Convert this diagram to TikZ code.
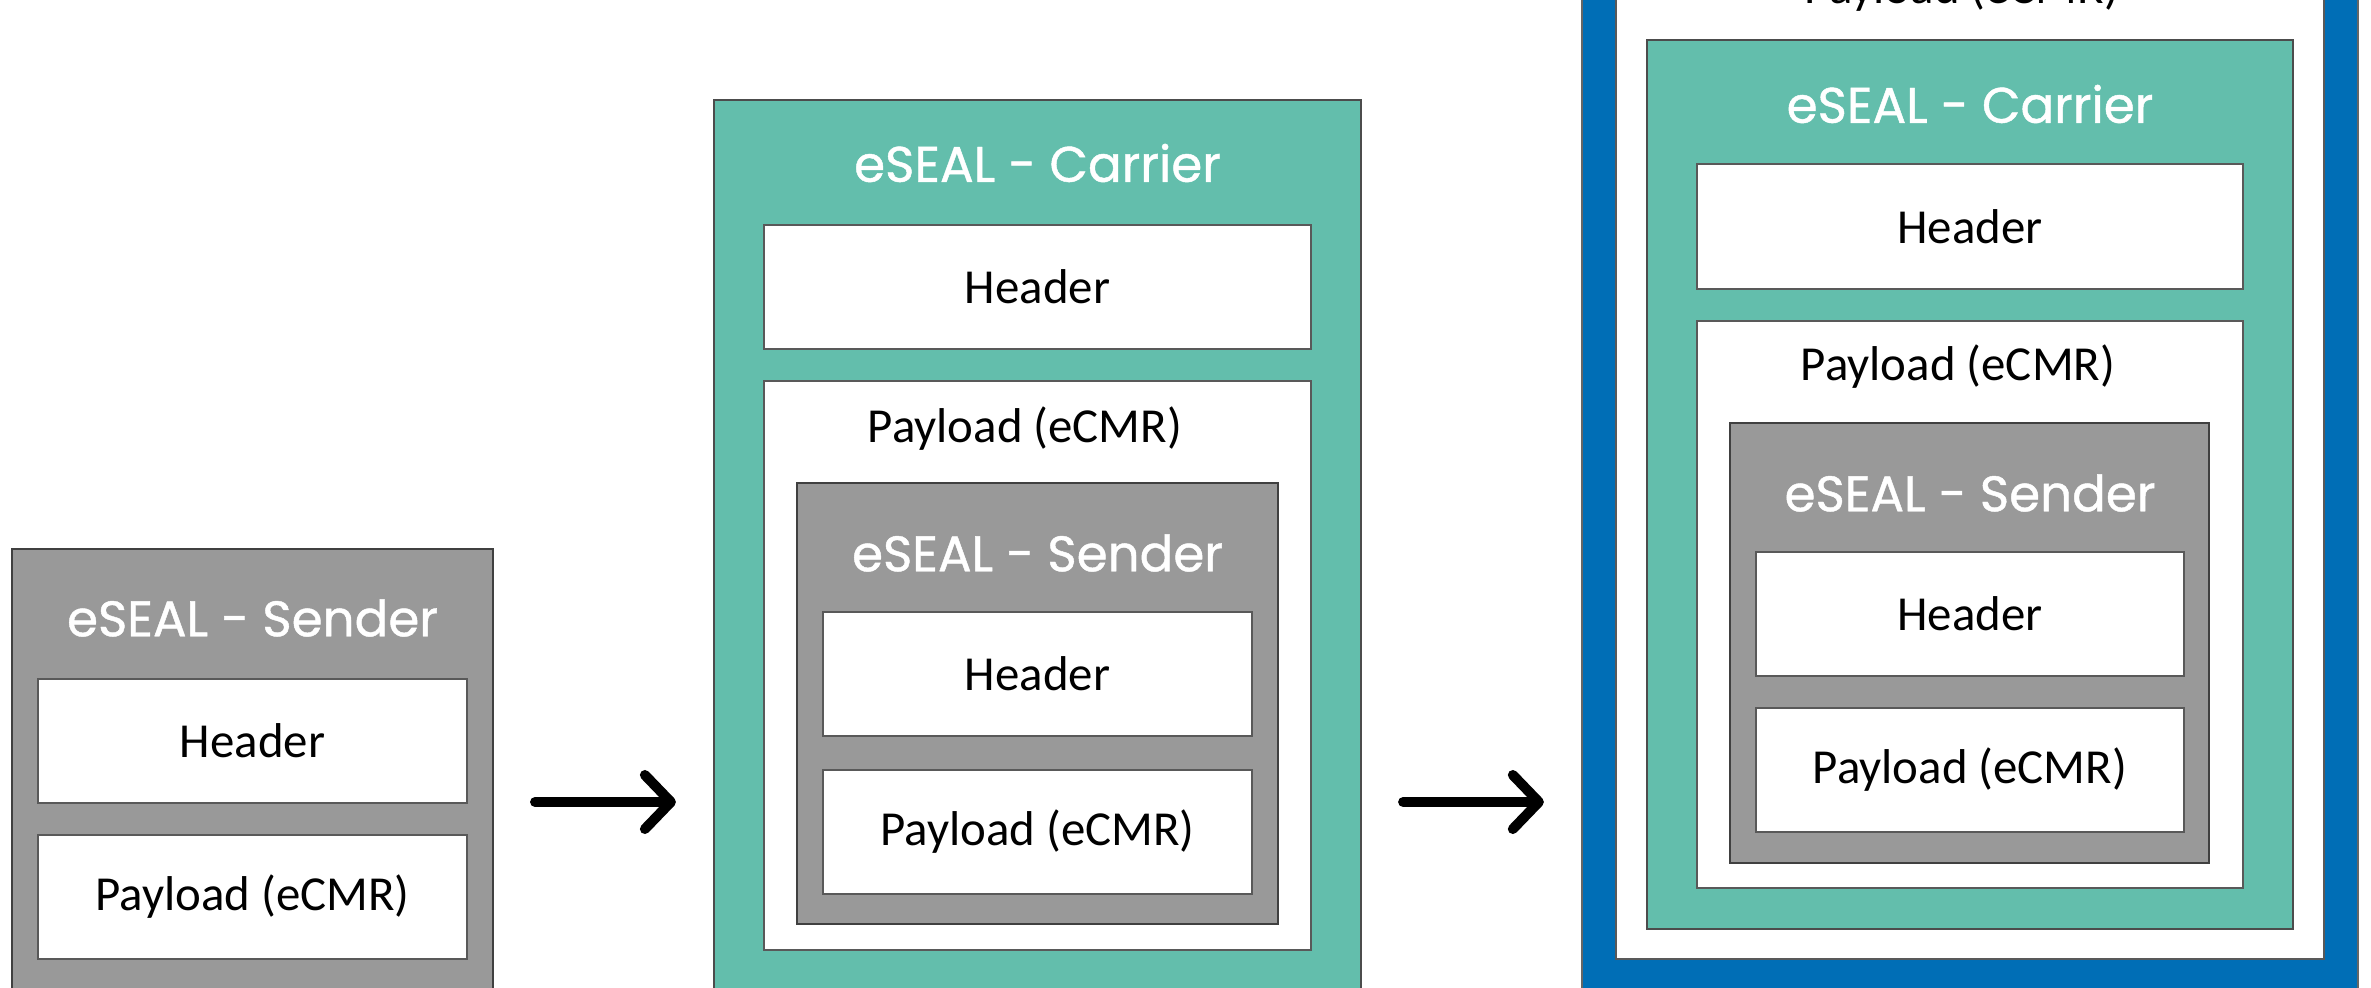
\documentclass[tikz,border=0pt]{standalone}
\usepackage{fontspec}
\setmainfont{Carlito}
\newfontfamily\sealfont{Poppins}[FakeBold=0.9]
\usepackage{tikz}
\usetikzlibrary{arrows.meta}
\usetikzlibrary{positioning}

\definecolor{sealgrey}{RGB}{153,153,153}
\definecolor{sealteal}{RGB}{99,190,172}
\definecolor{sealblue}{RGB}{0,110,182}

\tikzset{
  box/.style={rectangle,inner sep=0pt,line width=0.5pt},
  sendbox/.style={box,draw=black!75,fill=sealgrey},
  carrbox/.style={box,draw=black!70,fill=sealteal},
  outbox/.style={box,draw=black!60,fill=sealblue},
  partbox/.style={box,draw=black!65,fill=white,minimum height=1.24cm},
  sealtitle/.style={text=white,font=\sealfont\fontsize{14.2pt}{16pt}\selectfont},
  parttext/.style={text=black,font=\fontsize{13.9pt}{16pt}\selectfont},
  flow/.style={line width=2.85pt,line cap=round,-{Straight Barb[length=0.26cm,width=0.54cm,round]}}
}

\begin{document}
\begin{tikzpicture}[x=0.01cm,y=-0.01cm]
\useasboundingbox (0,0) rectangle (2371,987);
\clip (0,0) rectangle (2371,987);

% sender alone
\node at (252.5,802)[sendbox,minimum width=4.81cm,minimum height=5.06cm](s1){};
\node at (252.5,618)[sealtitle](s1t){eSEAL - Sender};
\node at (252.5,741)[partbox,minimum width=4.29cm](s1h){};
\node at (252.5,897)[partbox,minimum width=4.29cm](s1p){};
\node at (s1h)[parttext]{Header};
\node at (s1p)[parttext]{Payload (eCMR)};

% carrier around sender
\node at (1037.5,560)[carrbox,minimum width=6.47cm,minimum height=9.2cm](c2){};
\node at (1037.5,163)[sealtitle](c2t){eSEAL - Carrier};
\node at (1037.5,287)[partbox,minimum width=5.47cm](c2h){};
\node at (1037.5,665.5)[partbox,minimum width=5.47cm,minimum height=5.69cm](c2p){};
\node at (c2h)[parttext]{Header};
\node at (1025,429)[parttext](c2l){Payload (eCMR)};
\node at (1037.5,703.5)[sendbox,minimum width=4.81cm,minimum height=4.41cm](s2){};
\node at (1037.5,553)[sealtitle](s2t){eSEAL - Sender};
\node at (1037.5,674)[partbox,minimum width=4.29cm](s2h){};
\node at (1037.5,832)[partbox,minimum width=4.29cm](s2p){};
\node at (s2h)[parttext]{Header};
\node at (s2p)[parttext]{Payload (eCMR)};

% outer payload around carrier
\node at (1970,360)[outbox,minimum width=7.76cm,minimum height=13.2cm](b3){};
\node at (1970,329.5)[partbox,minimum width=7.08cm,minimum height=12.59cm](w3){};
\node at (1962,-10)[parttext](w3l){Payload (eCMR)};
\node at (1970,484.5)[carrbox,minimum width=6.46cm,minimum height=8.89cm](c3){};
\node at (1970,104)[sealtitle](c3t){eSEAL - Carrier};
\node at (1970,226.5)[partbox,minimum width=5.46cm,minimum height=1.25cm](c3h){};
\node at (1970,604.5)[partbox,minimum width=5.46cm,minimum height=5.67cm](c3p){};
\node at (c3h)[parttext]{Header};
\node at (1958,367)[parttext](c3l){Payload (eCMR)};
\node at (1969.5,643)[sendbox,minimum width=4.79cm,minimum height=4.4cm](s3){};
\node at (1970,493)[sealtitle](s3t){eSEAL - Sender};
\node at (1970,614)[partbox,minimum width=4.28cm](s3h){};
\node at (1970,770)[partbox,minimum width=4.28cm](s3p){};
\node at (s3h)[parttext]{Header};
\node at (s3p)[parttext]{Payload (eCMR)};

\draw[flow,shorten <=0.41cm,shorten >=0.37cm] (s1.east) -- (c2.west |- s1.east);
\draw[flow,shorten <=0.41cm,shorten >=0.37cm] (c2.east |- s1.east) -- (b3.west |- s1.east);
\end{tikzpicture}
\end{document}
